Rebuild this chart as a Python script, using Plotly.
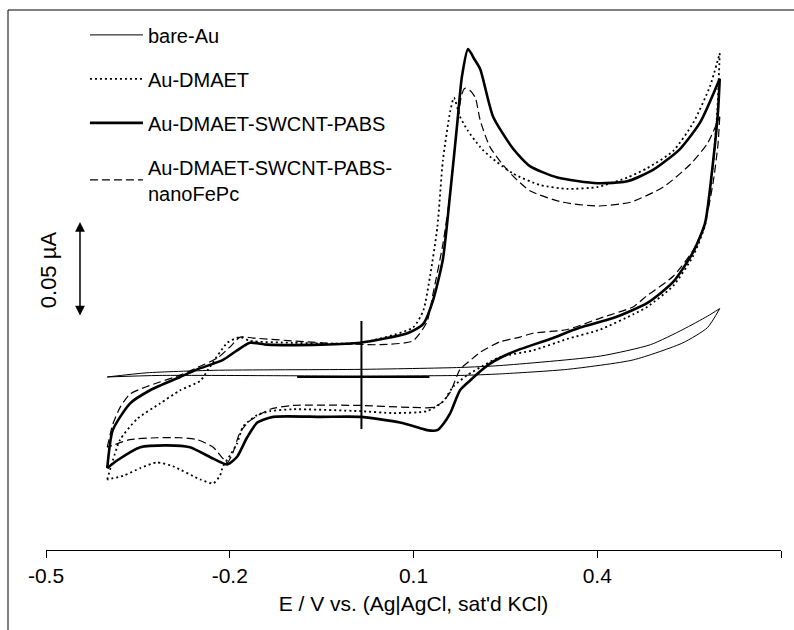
import plotly.graph_objects as go

# ---------------- data (E in V, current in µA) ----------------
bare_E_up = [-0.400, -0.335, -0.227, 0.013, 0.176, 0.241, 0.405, 0.487, 0.540, 0.580, 0.600]
bare_I_up = [0.000, 0.0022, 0.0035, 0.004, 0.005, 0.006, 0.011, 0.017, 0.025, 0.032, 0.036]
bare_E_dn = [0.600, 0.580, 0.540, 0.459, 0.351, 0.241, 0.176, 0.013, -0.314, -0.400]
bare_I_dn = [0.036, 0.026, 0.018, 0.009, 0.004, 0.0016, 0.0008, 0.0005, 0.0008, 0.000]

dmaet_E_up = [-0.400, -0.391, -0.379, -0.351, -0.314, -0.281, -0.248, -0.235, -0.204, -0.183,
              -0.167, -0.097, 0.013, 0.099, 0.116, 0.127, 0.139, 0.148, 0.160, 0.166,
              0.176, 0.188, 0.209, 0.225, 0.263, 0.307, 0.351, 0.400, 0.449, 0.482,
              0.524, 0.557, 0.584, 0.600]
dmaet_I_up = [-0.054, -0.044, -0.033, -0.022, -0.014, -0.007, -0.002, 0.004, 0.018, 0.021,
              0.019, 0.018, 0.018, 0.026, 0.035, 0.053, 0.079, 0.114, 0.140, 0.147,
              0.137, 0.130, 0.121, 0.116, 0.107, 0.101, 0.099, 0.100, 0.105, 0.110,
              0.119, 0.134, 0.153, 0.1705]
dmaet_E_dn = [0.600, 0.596, 0.589, 0.576, 0.557, 0.524, 0.482, 0.459, 0.405, 0.351,
              0.295, 0.241, 0.214, 0.188, 0.165, 0.148, 0.122, 0.067, 0.013, -0.097,
              -0.134, -0.155, -0.178, -0.188, -0.199, -0.211, -0.216, -0.227, -0.248, -0.293,
              -0.319, -0.346, -0.374, -0.400]
dmaet_I_dn = [0.1705, 0.140, 0.112, 0.080, 0.064, 0.048, 0.037, 0.033, 0.025, 0.020,
              0.014, 0.0105, 0.006, 0.001, -0.005, -0.013, -0.018, -0.019, -0.018, -0.017,
              -0.018, -0.020, -0.026, -0.035, -0.041, -0.047, -0.052, -0.056, -0.054, -0.047,
              -0.045, -0.048, -0.052, -0.054]

pabs_E_up = [-0.400, -0.391, -0.363, -0.330, -0.281, -0.253, -0.211, -0.188, -0.167, -0.139,
             -0.050, 0.013, 0.090, 0.116, 0.132, 0.148, 0.160, 0.171, 0.179, 0.189,
             0.200, 0.209, 0.230, 0.263, 0.290, 0.335, 0.400, 0.449, 0.491, 0.535,
             0.568, 0.600]
pabs_I_up = [-0.048, -0.028, -0.014, -0.007, 0.000, 0.004, 0.009, 0.014, 0.018, 0.017,
             0.017, 0.018, 0.023, 0.028, 0.0405, 0.062, 0.097, 0.132, 0.158, 0.1726,
             0.167, 0.162, 0.137, 0.120, 0.111, 0.105, 0.102, 0.103, 0.109, 0.120,
             0.134, 0.157]
pabs_E_dn = [0.600, 0.597, 0.589, 0.576, 0.557, 0.524, 0.482, 0.426, 0.372, 0.323,
             0.269, 0.241, 0.225, 0.209, 0.192, 0.176, 0.160, 0.148, 0.139, 0.122,
             0.111, 0.078, 0.013, -0.050, -0.129, -0.155, -0.172, -0.188, -0.204, -0.227,
             -0.265, -0.302, -0.346, -0.384, -0.400]
pabs_I_dn = [0.157, 0.139, 0.113, 0.081, 0.066, 0.050, 0.039, 0.031, 0.026, 0.020,
             0.014, 0.010, 0.007, 0.003, -0.002, -0.007, -0.019, -0.025, -0.028, -0.028,
             -0.027, -0.024, -0.021, -0.021, -0.021, -0.024, -0.032, -0.042, -0.046, -0.043,
             -0.037, -0.036, -0.037, -0.044, -0.048]

fepc_E_up = [-0.400, -0.391, -0.379, -0.363, -0.335, -0.281, -0.253, -0.220, -0.199, -0.183,
             -0.162, -0.050, 0.045, 0.099, 0.122, 0.132, 0.148, 0.160, 0.171, 0.179,
             0.184, 0.192, 0.201, 0.209, 0.225, 0.253, 0.290, 0.344, 0.400, 0.454,
             0.508, 0.552, 0.580, 0.600]
fepc_I_up = [-0.037, -0.025, -0.016, -0.009, -0.005, 0.001, 0.005, 0.010, 0.016, 0.021,
             0.0205, 0.018, 0.017, 0.019, 0.029, 0.044, 0.070, 0.097, 0.132, 0.149,
             0.152, 0.151, 0.147, 0.135, 0.121, 0.109, 0.098, 0.092, 0.090, 0.092,
             0.100, 0.112, 0.123, 0.137]
fepc_E_dn = [0.600, 0.597, 0.589, 0.576, 0.557, 0.524, 0.482, 0.459, 0.405, 0.351,
             0.295, 0.274, 0.241, 0.209, 0.190, 0.176, 0.160, 0.148, 0.132, 0.094,
             0.013, -0.097, -0.134, -0.167, -0.183, -0.195, -0.204, -0.227, -0.253, -0.281,
             -0.319, -0.363, -0.391, -0.400]
fepc_I_dn = [0.137, 0.122, 0.102, 0.081, 0.067, 0.053, 0.043, 0.037, 0.031, 0.025,
             0.023, 0.021, 0.0185, 0.013, 0.008, 0.004, -0.008, -0.013, -0.016, -0.016,
             -0.015, -0.015, -0.017, -0.023, -0.029, -0.040, -0.045, -0.037, -0.033, -0.032,
             -0.032, -0.033, -0.036, -0.037]

series_names = ["bare-Au", "Au-DMAET", "Au-DMAET-SWCNT-PABS", "Au-DMAET-SWCNT-PABS-<br>nanoFePc"]
tick_vals = [-0.5, -0.2, 0.1, 0.4, 0.7]
tick_text = ["-0.5", "-0.2", "0.1", "0.4", "0.7"]
x_title = "E / V vs. (Ag|AgCl, sat'd KCl)"

# scale bar and zero-current marker
scale_E = -0.4445
scale_I0 = 0.0316
scale_len = 0.05
scale_label = "0.05 µA"
zero_E = 0.015
zero_h_E = [-0.090, 0.126]
zero_v_I = [-0.0274, 0.0295]

X_RANGE = [-0.5, 0.7]
Y_RANGE = [-0.0911, 0.1932]

FONT = "Arial, 'Liberation Sans', sans-serif"

fig = go.Figure()

styles = [
    dict(width=1.0, dash="solid"),
    dict(width=1.8, dash="2px,3px"),
    dict(width=2.6, dash="solid"),
    dict(width=1.2, dash="8px,4px"),
]
data = [
    (bare_E_up, bare_I_up, bare_E_dn, bare_I_dn),
    (dmaet_E_up, dmaet_I_up, dmaet_E_dn, dmaet_I_dn),
    (pabs_E_up, pabs_I_up, pabs_E_dn, pabs_I_dn),
    (fepc_E_up, fepc_I_up, fepc_E_dn, fepc_I_dn),
]

for k, (name, st, (eu, iu, ed, idn)) in enumerate(zip(series_names, styles, data)):
    line = dict(color="black", width=st["width"], dash=st["dash"], shape="spline", smoothing=0.6)
    fig.add_trace(go.Scatter(x=eu, y=iu, mode="lines", name=name, legendgroup=f"g{k}",
                             line=line, showlegend=True, hoverinfo="skip"))
    fig.add_trace(go.Scatter(x=ed, y=idn, mode="lines", name=name, legendgroup=f"g{k}",
                             line=line, showlegend=False, hoverinfo="skip"))

# zero-current cross marker
fig.add_shape(type="line", xref="x", yref="y", x0=zero_h_E[0], x1=zero_h_E[1], y0=0, y1=0,
              line=dict(color="black", width=2))
fig.add_shape(type="line", xref="x", yref="y", x0=zero_E, x1=zero_E, y0=zero_v_I[0], y1=zero_v_I[1],
              line=dict(color="black", width=2))

# scale bar (double-headed arrow)
fig.add_annotation(x=scale_E, y=scale_I0 + scale_len, ax=scale_E, ay=scale_I0,
                   xref="x", yref="y", axref="x", ayref="y", text="",
                   showarrow=True, arrowhead=2, startarrowhead=2, arrowside="end+start",
                   arrowsize=1.3, startarrowsize=1.3, arrowwidth=1.5, arrowcolor="black")
fig.add_annotation(x=-0.4955, y=scale_I0 + scale_len / 2, xref="x", yref="y",
                   text=scale_label, textangle=-90, showarrow=False,
                   font=dict(family=FONT, size=22, color="black"))

# outer chart frame (left and top edges)
fig.add_shape(type="line", xref="paper", yref="paper", x0=-0.0517, x1=-0.0517, y0=-0.2, y1=1.0,
              line=dict(color="black", width=1))
fig.add_shape(type="line", xref="paper", yref="paper", x0=-0.0517, x1=1.05, y0=1.0, y1=1.0,
              line=dict(color="black", width=1))

fig.update_layout(
    width=794, height=630,
    margin=dict(l=46, r=13, t=10, b=80, autoexpand=False),
    paper_bgcolor="white", plot_bgcolor="white",
    font=dict(family=FONT, color="black"),
    showlegend=True,
    legend=dict(x=0.053, y=0.99, xanchor="left", yanchor="top",
                bgcolor="rgba(0,0,0,0)", borderwidth=0,
                font=dict(family=FONT, size=20, color="black"),
                tracegroupgap=15, itemwidth=53, traceorder="grouped"),
    xaxis=dict(range=X_RANGE, showgrid=False, zeroline=False, automargin=False,
               showline=True, linecolor="black", linewidth=1,
               ticks="outside", ticklen=7, tickwidth=1, tickcolor="black",
               tickvals=tick_vals, ticktext=tick_text,
               tickfont=dict(family=FONT, size=21, color="black"),
               title=dict(text=x_title, font=dict(family=FONT, size=21, color="black"), standoff=10)),
    yaxis=dict(range=Y_RANGE, visible=False, showgrid=False, zeroline=False, automargin=False),
)

fig.write_html("out.html")
